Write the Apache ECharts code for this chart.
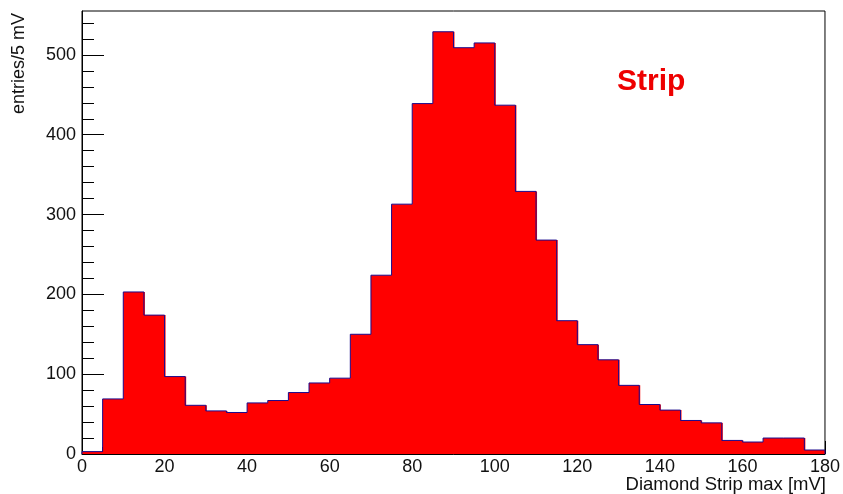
<!DOCTYPE html>
<html>
<head>
<meta charset="utf-8">
<script src="https://cdn.jsdelivr.net/npm/echarts@6/dist/echarts.min.js"></script>
<style>html,body{margin:0;padding:0;background:#fff}#c{width:843px;height:494px}</style>
</head>
<body>
<div id="c"></div>
<script>
// Histogram bins: lower edge (mV), upper edge (mV), entries per bin
const binLow  = [0,5,10,15,20,25,30,35,40,45,50,55,60,65,70,75,80,85,90,95,100,105,110,115,120,125,130,135,140,145,150,155,160,165,170,175];
const binHigh = [5,10,15,20,25,30,35,40,45,50,55,60,65,70,75,80,85,90,95,100,105,110,115,120,125,130,135,140,145,150,155,160,165,170,175,180];
const counts  = [3,69,203,174,97,61,54,52,64,67,77,89,95,150,224,313,439,529,509,515,437,329,268,167,137,118,86,62,55,42,39,17,15,20,20,5];
const yMinorTicks = [20,40,60,80,120,140,160,180,220,240,260,280,320,340,360,380,420,440,460,480,520,540];
const xTitle = 'Diamond Strip max [mV]';
const yTitle = 'entries/5 mV';
const label = 'Strip';

const FONT = 'Liberation Sans';
const data = counts.map((c, i) => [binLow[i], binHigh[i], c, i > 0 ? counts[i - 1] : 0, i === counts.length - 1 ? 1 : 0]);

const chart = echarts.init(document.getElementById('c'), null, {renderer: 'canvas'});
chart.setOption({
  animation: false,
  backgroundColor: '#fff',
  grid: {left: 82, right: 17, top: 11, bottom: 40, show: true, borderColor: '#000', borderWidth: 1, backgroundColor: 'transparent'},
  xAxis: {
    type: 'value', min: 0, max: 180, interval: 20,
    axisLine: {show: true, lineStyle: {color: '#000', width: 1}},
    axisTick: {show: true, inside: true, length: 13, lineStyle: {color: '#000'}},
    minorTick: {show: true, splitNumber: 4, length: 7, lineStyle: {color: '#000'}},
    splitLine: {show: false},
    axisLabel: {color: '#111', fontSize: 18, fontFamily: FONT, margin: 4}
  },
  yAxis: [{
    type: 'value', min: 0, max: 555, interval: 100,
    axisLine: {show: true, lineStyle: {color: '#000', width: 1}},
    axisTick: {show: true, inside: true, length: 22, lineStyle: {color: '#000'}},
    splitLine: {show: false},
    axisLabel: {color: '#111', fontSize: 18, fontFamily: FONT, margin: 6, showMaxLabel: false}
  }, {
    type: 'value', min: 0, max: 555, position: 'left',
    axisLine: {show: false},
    axisTick: {show: true, inside: true, length: 12, customValues: yMinorTicks, lineStyle: {color: '#000'}},
    splitLine: {show: false},
    axisLabel: {show: false}
  }],
  series: [{
    type: 'custom',
    xAxisIndex: 0, yAxisIndex: 0,
    data: data,
    encode: {x: [0, 1], y: 2},
    renderItem: function (params, api) {
      const x0 = api.value(0), x1 = api.value(1), y = api.value(2), yp = api.value(3), last = api.value(4);
      const a = api.coord([x0, 0]);
      const b = api.coord([x1, y]);
      const pPrev = api.coord([x0, yp]);
      const pBase = api.coord([x1, 0]);
      const pts = [[a[0], pPrev[1]], [a[0], b[1]], [b[0], b[1]]];
      if (last) pts.push([b[0], pBase[1]]);
      const extra = last ? 0 : 1;
      return {
        type: 'group',
        children: [
          {type: 'rect', shape: {x: a[0], y: b[1], width: b[0] - a[0] + extra, height: a[1] - b[1]}, style: {fill: '#ff0000'}, z2: 1},
          {type: 'polyline', shape: {points: pts}, style: {stroke: '#1a0a8c', lineWidth: 1, fill: null}, z2: 10}
        ]
      };
    }
  }],
  graphic: [
    {type: 'text', x: 19, y: 13, rotation: Math.PI / 2,
     style: {text: yTitle, font: '18px "Liberation Sans"', fill: '#111', align: 'right', verticalAlign: 'middle'}},
    {type: 'text', x: 826, y: 475,
     style: {text: xTitle, font: '18.5px "Liberation Sans"', fill: '#111', align: 'right', verticalAlign: 'top'}},
    {type: 'text', x: 617, y: 67,
     style: {text: label, font: 'bold 30px "Liberation Sans"', fill: '#ee0000', align: 'left', verticalAlign: 'top'}}
  ]
});
</script>
</body>
</html>
